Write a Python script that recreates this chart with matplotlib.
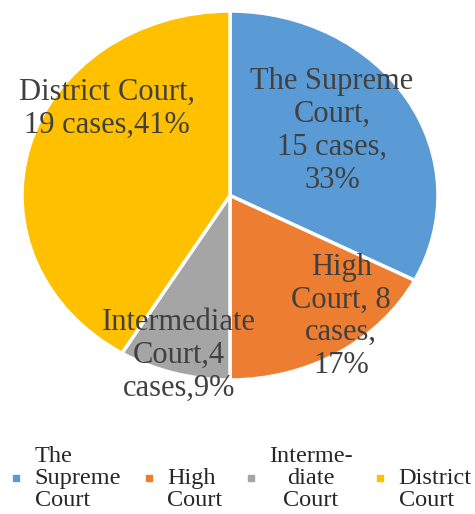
import matplotlib as mpl
mpl.use('Agg')
import matplotlib.pyplot as plt

# court levels and number of cases
courts = ["The Supreme Court", "High Court", "Intermediate Court", "District Court"]
cases = [15, 8, 4, 19]
slice_labels = ["The Supreme\nCourt,\n15 cases,\n33%",
                "High\nCourt, 8\ncases,\n17%",
                "Intermediate\nCourt,4\ncases,9%",
                "District Court,\n19 cases,41%"]
# leading blank line keeps all legend entries bottom aligned
legend_labels = ["The\nSupreme\nCourt", "\nHigh\nCourt", "Interme-\ndiate\nCourt",
                 "\nDistrict\nCourt"]
colors = ["#5B9BD5", "#ED7D31", "#A5A5A5", "#FFC000"]

# where each slice label sits, in pie radius units
label_xy = [(0.49, 0.35), (0.535, -0.655), (-0.245, -0.865), (-0.59, 0.47)]

plt.rcParams['font.family'] = ['Liberation Serif', 'DejaVu Serif']
text_color = "#404040"

fig = plt.figure(figsize=(4.75, 5.14), dpi=100)
ax = fig.add_axes([22 / 475, 134 / 514, 416 / 475, 369 / 514])
wedges, _ = ax.pie(cases, colors=colors, startangle=90, counterclock=False,
                   wedgeprops=dict(edgecolor="white", linewidth=2.5))
ax.set_aspect('auto')
ax.set_xlim(-1, 1)
ax.set_ylim(-1, 1)

for lab, (x, y) in zip(slice_labels, label_xy):
    ax.text(x, y, lab, ha="center", va="center", fontsize=22,
            color=text_color, linespacing=1.17)

handles = [plt.Line2D([], [], marker="s", linestyle="none", markersize=5,
                      markerfacecolor=c, markeredgecolor=c) for c in colors]
leg = fig.legend(handles, legend_labels, loc="lower center", ncol=4,
                 bbox_to_anchor=(0.505, -0.036), frameon=False,
                 prop=dict(family="Liberation Serif", size=17.5),
                 handlelength=0.7, handletextpad=0.4, columnspacing=0.8,
                 labelcolor="#262626")
for t in leg.get_texts():
    t.set_linespacing(1.06)
leg.get_texts()[2].set_multialignment("center")

fig.savefig("out.png", dpi=100)
